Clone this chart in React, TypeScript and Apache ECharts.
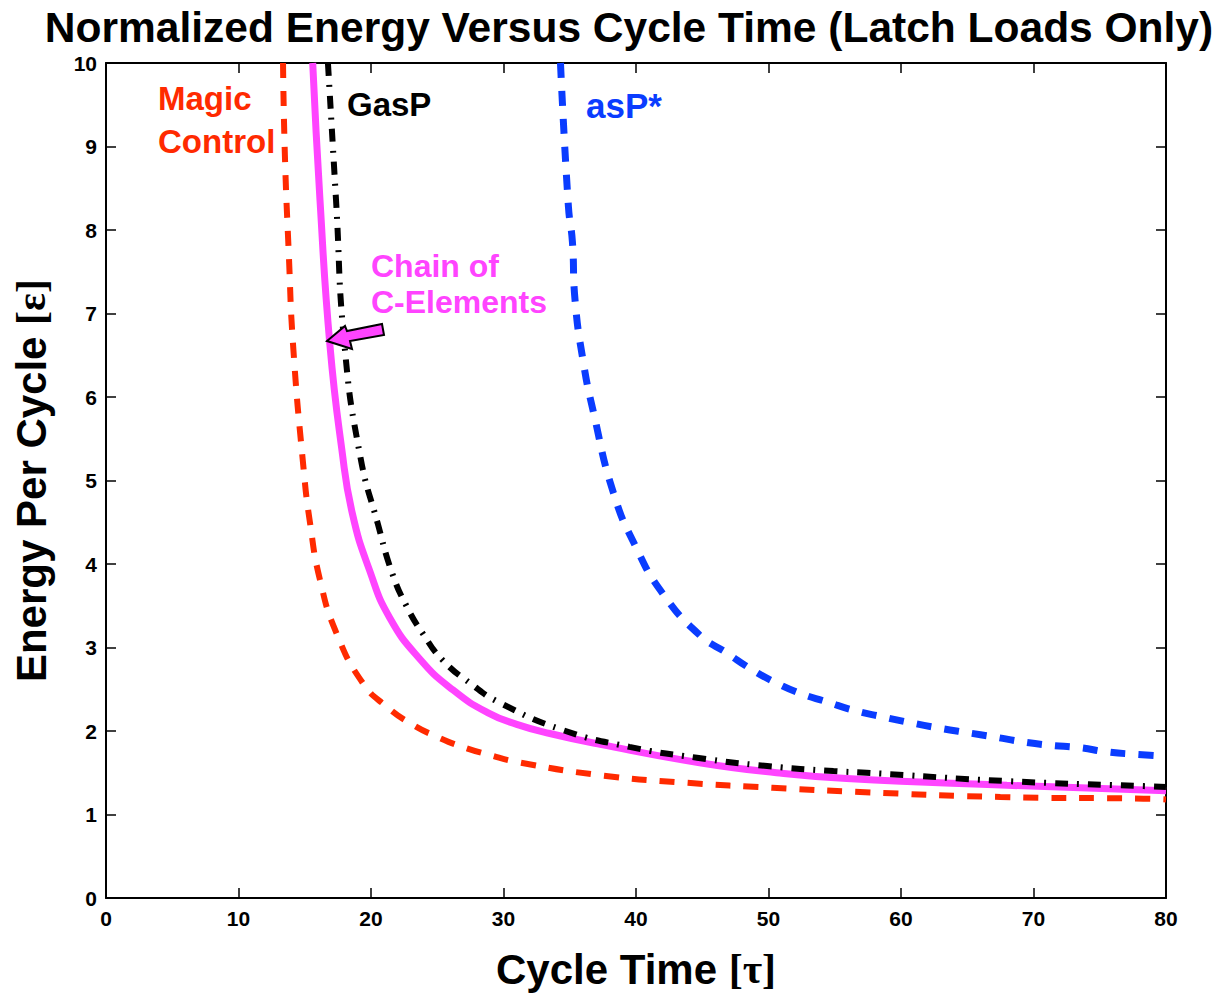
import React, { useEffect, useRef } from "react";
import * as echarts from "echarts";

// Magic Control (red dashed)
const magicX = [13.36, 13.5, 13.8, 14.12, 14.9, 15.4, 16.15, 17.4, 19.4, 21.2, 23.2, 25.0, 26.9, 29.0, 31.0, 37.3, 43.8, 50.3, 56.9, 67.5, 78.3, 80];
const magicY = [10, 8.9, 7.7, 6.62, 5.16, 4.49, 3.81, 3.17, 2.57, 2.29, 2.07, 1.93, 1.81, 1.71, 1.63, 1.47, 1.38, 1.32, 1.27, 1.21, 1.19, 1.18];

// Chain of C-Elements (magenta solid)
const chainX = [15.6, 16.15, 16.9, 17.8, 18.6, 19.9, 21.4, 23.7, 26.2, 28.8, 31.0, 33.5, 37.3, 44.8, 50.6, 55.9, 68.0, 80];
const chainY = [10, 8.36, 6.62, 5.37, 4.6, 3.92, 3.36, 2.86, 2.49, 2.22, 2.08, 1.97, 1.84, 1.62, 1.5, 1.43, 1.35, 1.285];

// GasP (black dash-dot)
const gaspX = [16.75, 17.36, 18.0, 19.2, 20.5, 21.6, 22.7, 23.9, 25.4, 27.5, 29.7, 34.5, 39.5, 44.6, 49.9, 54.9, 57.4, 68.0, 78.3, 80];
const gaspY = [10, 8.36, 6.62, 5.28, 4.49, 3.89, 3.49, 3.17, 2.85, 2.57, 2.34, 2.01, 1.81, 1.68, 1.58, 1.52, 1.5, 1.4, 1.34, 1.33];

// asP* (blue dashed)
const aspX = [34.3, 34.9, 35.2, 35.4, 36.0, 36.8, 38.3, 40.0, 42.0, 44.8, 46.9, 48.6, 50.4, 52.4, 54.4, 56.4, 58.6, 60.7, 62.7, 65.0, 67.0, 69.2, 71.2, 73.5, 75.5, 77.8, 80];
const aspY = [10, 8.28, 7.86, 7.16, 6.44, 5.81, 4.85, 4.2, 3.65, 3.15, 2.93, 2.75, 2.59, 2.45, 2.35, 2.25, 2.17, 2.1, 2.04, 1.98, 1.93, 1.87, 1.83, 1.8, 1.75, 1.72, 1.7];

const xTicks = [0, 10, 20, 30, 40, 50, 60, 70, 80];
const yTicks = [0, 1, 2, 3, 4, 5, 6, 7, 8, 9, 10];

const RED = "#ff2a00";
const BLUE = "#0a3cff";
const MAGENTA = "#ff44ff";
const FONT = "'Liberation Sans', Arial, Helvetica, sans-serif";
const SERIF = "'Liberation Serif', 'Times New Roman', serif";

const zip = (xs: number[], ys: number[]) => xs.map((x, i) => [x, ys[i]]);

export default function App() {
  const ref = useRef<HTMLDivElement>(null);
  useEffect(() => {
    document.body.style.margin = "0";
    if (!ref.current) return;
    const chart = echarts.init(ref.current, undefined, { renderer: "svg" });
    const axisBase = {
      min: 0,
      axisLine: { show: true, onZero: false, lineStyle: { color: "#000", width: 2 } },
      axisTick: { show: true, inside: true, length: 10, lineStyle: { color: "#000", width: 1.5 } },
      splitLine: { show: false },
    };
    const labelStyle = { color: "#000", fontWeight: "bold" as const, fontSize: 21, fontFamily: FONT };
    const nameRich = {
      a: { fontSize: 42, fontWeight: "bold", fontFamily: FONT, color: "#000" },
      b: { fontSize: 42, fontWeight: "bold", fontFamily: SERIF, color: "#000" },
    };
    const lineCommon = { type: "line", smooth: 0.5, showSymbol: false, clip: true, z: 3 };
    chart.setOption({
      animation: false,
      backgroundColor: "#fff",
      title: {
        text: "Normalized Energy Versus Cycle Time (Latch Loads Only)",
        left: 629,
        textAlign: "center",
        top: 5,
        padding: 0,
        textStyle: { color: "#000", fontSize: 42.5, lineHeight: 44, fontWeight: "bold", fontFamily: FONT },
      },
      grid: { left: 106, right: 58, top: 63, bottom: 95, containLabel: false, outerBoundsMode: "none" },
      xAxis: [
        {
          ...axisBase,
          type: "value",
          max: xTicks[xTicks.length - 1],
          interval: 10,
          position: "bottom",
          axisLabel: { ...labelStyle, margin: 10, formatter: (v: number) => (xTicks.includes(v) ? String(v) : "") },
          name: "{a|Cycle Time }{b|[τ]}",
          nameLocation: "middle",
          nameGap: 50,
          nameTextStyle: { rich: nameRich },
        },
        {
          ...axisBase,
          type: "value",
          max: 80,
          interval: 10,
          position: "top",
          axisLabel: { show: false },
        },
      ],
      yAxis: [
        {
          ...axisBase,
          type: "value",
          max: yTicks[yTicks.length - 1],
          interval: 1,
          position: "left",
          axisLabel: { ...labelStyle, margin: 9, formatter: (v: number) => (yTicks.includes(v) ? String(v) : "") },
          name: "{a|Energy Per Cycle }{b|[ε]}",
          nameLocation: "middle",
          nameGap: 54,
          nameRotate: 90,
          nameTextStyle: { rich: nameRich },
        },
        {
          ...axisBase,
          type: "value",
          max: 10,
          interval: 1,
          position: "right",
          axisLabel: { show: false },
        },
      ],
      series: [
        {
          ...lineCommon,
          name: "Chain of C-Elements",
          data: zip(chainX, chainY),
          lineStyle: { color: MAGENTA, width: 7 },
          z: 2,
        },
        {
          ...lineCommon,
          name: "GasP",
          data: zip(gaspX, gaspY),
          lineStyle: { color: "#000", width: 6, type: [13, 9, 2, 9], cap: "butt" },
        },
        {
          ...lineCommon,
          name: "Magic Control",
          data: zip(magicX, magicY),
          lineStyle: { color: RED, width: 6, type: [15, 13], cap: "butt" },
        },
        {
          ...lineCommon,
          name: "asP*",
          data: zip(aspX, aspY),
          lineStyle: { color: BLUE, width: 7, type: [15, 13], cap: "butt" },
        },
      ],
      graphic: [
        { type: "text", left: 158, top: 82, style: { text: "Magic", fill: RED, font: `bold 33px ${FONT}` } },
        { type: "text", left: 158, top: 125, style: { text: "Control", fill: RED, font: `bold 33px ${FONT}` } },
        { type: "text", left: 347, top: 88, style: { text: "GasP", fill: "#000", font: `bold 33px ${FONT}` } },
        { type: "text", left: 586, top: 88, style: { text: "asP*", fill: BLUE, font: `bold 35px ${FONT}` } },
        { type: "text", left: 371, top: 250, style: { text: "Chain of", fill: MAGENTA, font: `bold 32px ${FONT}` } },
        { type: "text", left: 371, top: 286, style: { text: "C-Elements", fill: MAGENTA, font: `bold 32px ${FONT}` } },
        {
          type: "polygon",
          z: 100,
          shape: {
            points: [
              [327, 341],
              [345, 326],
              [347, 331],
              [382, 324],
              [384, 335],
              [350, 341],
              [352, 349],
            ],
          },
          style: { fill: MAGENTA, stroke: "#000", lineWidth: 2 },
        },
      ],
    });
    return () => chart.dispose();
  }, []);
  return <div ref={ref} style={{ width: 1224, height: 993 }} />;
}
